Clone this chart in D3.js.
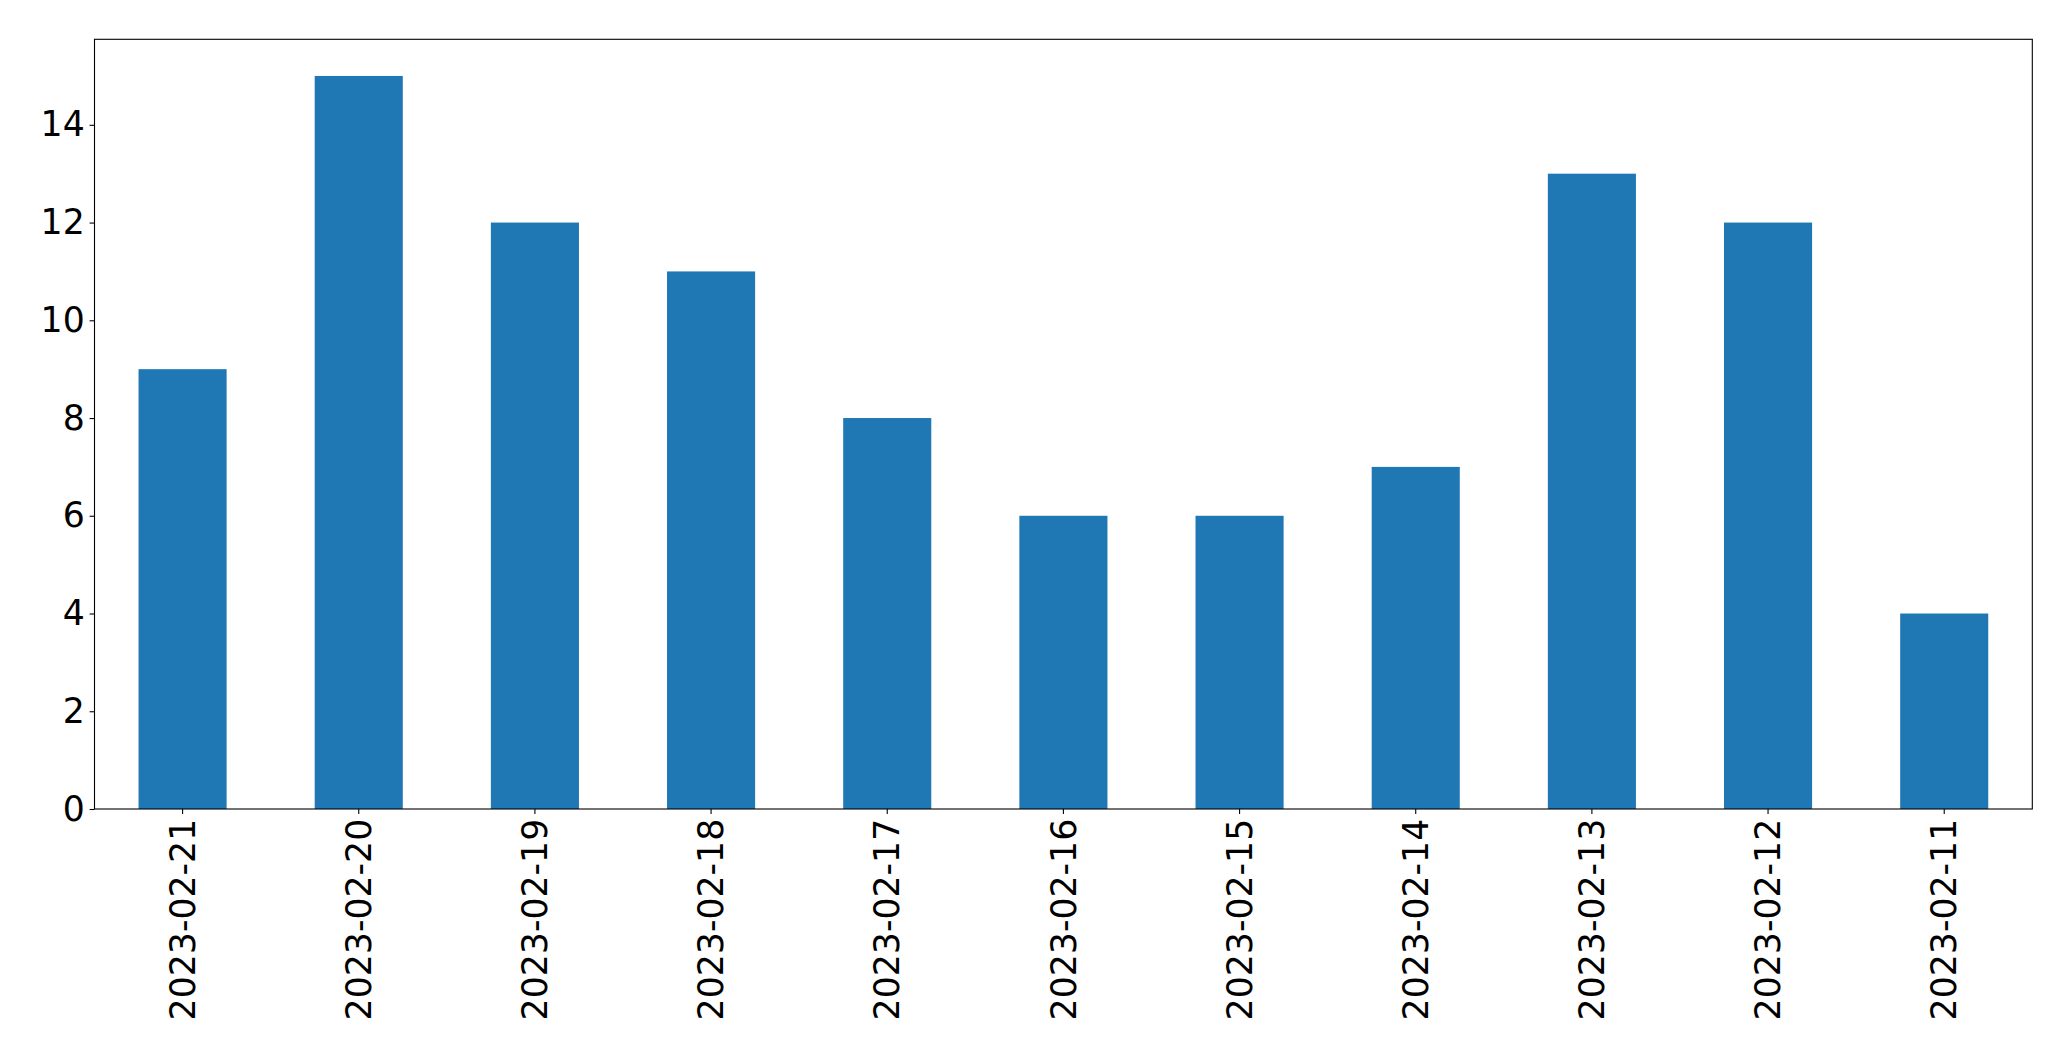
<!DOCTYPE html>
<html><head><meta charset="utf-8">
<script src="https://cdn.jsdelivr.net/npm/d3@7"></script>
<style>html,body{margin:0;padding:0;background:#fff;overflow:hidden}</style>
</head><body>
<svg id="chart" width="2071" height="1061"></svg>
<script>
const categories = ["2023-02-21","2023-02-20","2023-02-19","2023-02-18","2023-02-17","2023-02-16","2023-02-15","2023-02-14","2023-02-13","2023-02-12","2023-02-11"];
const values = [9, 15, 12, 11, 8, 6, 6, 7, 13, 12, 4];
const yTicks = [0, 2, 4, 6, 8, 10, 12, 14];

const svg = d3.select("#chart");
const L = 94.5, R = 2032.3, T = 39.3, B = 809;
const font = "DejaVu Sans";
const fs = 34.7;

const x = d3.scaleBand().domain(categories).range([L, R]).paddingInner(0.5).paddingOuter(0.25);
const y = d3.scaleLinear().domain([0, 15.75]).range([B, T]);

svg.append("rect").attr("width", 2071).attr("height", 1061).attr("fill", "#fff");

svg.selectAll("rect.bar").data(values).enter().append("rect")
  .attr("class", "bar")
  .attr("x", (d, i) => x(categories[i]))
  .attr("width", x.bandwidth())
  .attr("y", d => y(d))
  .attr("height", d => y(0) - y(d))
  .attr("fill", "#1f77b4");

const yAxis = svg.append("g").attr("transform", `translate(${L},0)`)
  .call(d3.axisLeft(y).tickValues(yTicks).tickSize(4.9).tickPadding(4.9).tickFormat(d3.format("d")));
const xAxis = svg.append("g").attr("transform", `translate(0,${B})`)
  .call(d3.axisBottom(x).tickSize(4.9).tickPadding(4.9));

[yAxis, xAxis].forEach(g => {
  g.select(".domain").remove();
  g.selectAll(".tick line").attr("stroke", "#000").attr("stroke-width", 1.1);
  g.selectAll("text").attr("font-family", font).attr("font-size", fs).attr("fill", "#000");
});

xAxis.selectAll(".tick text")
  .attr("transform", "rotate(-90)")
  .attr("text-anchor", "end")
  .attr("x", -9.8)
  .attr("y", 0)
  .attr("dy", "0.35em");

svg.append("rect").attr("x", L).attr("y", T).attr("width", R - L).attr("height", B - T)
  .attr("fill", "none").attr("stroke", "#000").attr("stroke-width", 1.1);
</script>
</body></html>
